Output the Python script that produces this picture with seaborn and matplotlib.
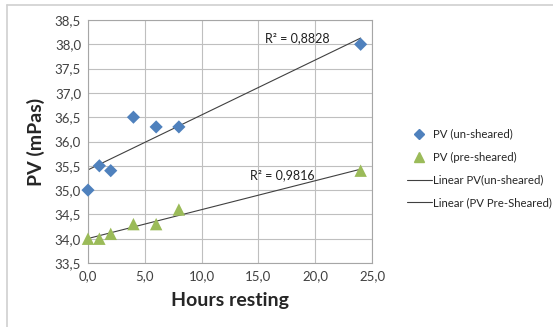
import numpy as np
import pandas as pd
import matplotlib
matplotlib.use("Agg")
import matplotlib.pyplot as plt
from matplotlib.lines import Line2D
import seaborn as sns

hours = [0, 1, 2, 4, 6, 8, 24]
pv_unsheared = [35.0, 35.5, 35.4, 36.5, 36.3, 36.3, 38.0]
pv_presheared = [34.0, 34.0, 34.1, 34.3, 34.3, 34.6, 35.4]
r2_labels = ["R² = 0,8828", "R² = 0,9816"]
x_ticks = [0, 5, 10, 15, 20, 25]
y_ticks = [33.5, 34.0, 34.5, 35.0, 35.5, 36.0, 36.5, 37.0, 37.5, 38.0, 38.5]

blue = "#4F81BD"
green = "#9BBB59"
trend = "#404040"

sns.set_theme(style="white")
plt.rcParams["font.family"] = ["Lato", "DejaVu Sans"]

df = pd.DataFrame({"hours": hours, "un": pv_unsheared, "pre": pv_presheared})

fig = plt.figure(figsize=(5.53, 3.27), dpi=100)
ax = fig.add_axes([88 / 553, 1 - 263 / 327, (372 - 88) / 553, (263 - 20) / 327])

sns.regplot(data=df, x="hours", y="un", scatter=False, ci=None, truncate=True,
            line_kws=dict(color=trend, lw=0.8), ax=ax)
sns.regplot(data=df, x="hours", y="pre", scatter=False, ci=None, truncate=True,
            line_kws=dict(color=trend, lw=0.8), ax=ax)
sns.scatterplot(data=df, x="hours", y="un", marker="D", s=45, color=blue,
                edgecolor="none", ax=ax, zorder=3, clip_on=False)
sns.scatterplot(data=df, x="hours", y="pre", marker="^", s=80, color=green,
                edgecolor="none", ax=ax, zorder=3, clip_on=False)

ax.set_xlim(0, 25)
ax.set_ylim(33.5, 38.5)
ax.set_xticks(x_ticks)
ax.set_yticks(y_ticks)
ax.set_xticklabels([f"{v:.1f}".replace(".", ",") for v in x_ticks], fontsize=9.5, color="#404040")
ax.set_yticklabels([f"{v:.1f}".replace(".", ",") for v in y_ticks], fontsize=9.5, color="#404040")
ax.tick_params(length=0, pad=5)
ax.grid(True, color="#BFBFBF", lw=0.8)
ax.set_axisbelow(True)
for s in ax.spines.values():
    s.set_color("#A6A6A6")
    s.set_linewidth(0.8)

ax.set_xlabel("Hours resting", fontsize=14, fontweight="bold", labelpad=7)
ax.set_ylabel("PV (mPas)", fontsize=14, fontweight="bold", labelpad=7)

ax.text(15.6, 38.13, r2_labels[0], fontsize=9, color="#202020", va="center", ha="left")
ax.text(14.3, 35.31, r2_labels[1], fontsize=9, color="#202020", va="center", ha="left")

handles = [
    Line2D([], [], ls="none", marker="D", color=blue, markersize=5),
    Line2D([], [], ls="none", marker="^", color=green, markersize=7),
    Line2D([], [], color=trend, lw=0.8),
    Line2D([], [], color=trend, lw=0.8),
]
labels = ["PV (un-sheared)", "PV (pre-sheared)", "Linear PV(un-sheared)",
          "Linear (PV Pre-Sheared)"]
fig.legend(handles, labels, loc="upper left", bbox_to_anchor=(402 / 553, 1 - 124 / 327),
           frameon=False, fontsize=8.2, handlelength=2.2, labelspacing=1.05,
           handletextpad=0.15, borderaxespad=0)

# chart-area frame: top and left edges
fig.add_artist(Line2D([7 / 553, 1], [1 - 5 / 327, 1 - 5 / 327],
                      transform=fig.transFigure, color="#D0D0D0", lw=1.2))
fig.add_artist(Line2D([7 / 553, 7 / 553], [0, 1 - 5 / 327],
                      transform=fig.transFigure, color="#D0D0D0", lw=1.2))

fig.savefig("out.png", dpi=100)
